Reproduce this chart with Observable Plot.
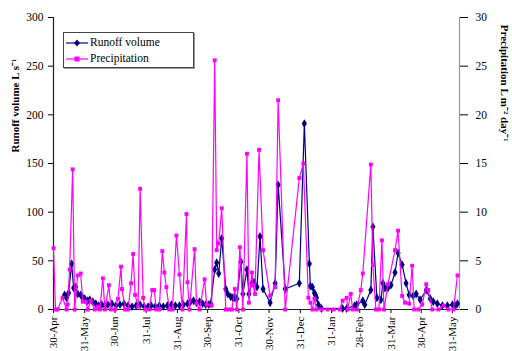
<!DOCTYPE html>
<html><head><meta charset="utf-8">
<script src="https://cdn.jsdelivr.net/npm/d3@7"></script>
<script src="https://cdn.jsdelivr.net/npm/@observablehq/plot@0.6"></script>
<style>
body{margin:0;background:#fff;}
#wrap{position:relative;width:512px;height:351px;font-family:"Liberation Serif","Times New Roman",serif;}
#legend{position:absolute;left:63px;top:32px;width:129px;height:34px;border:1px solid #444;background:#fff;box-shadow:1px 1px 0 #999;font-family:"Liberation Serif","Times New Roman",serif;font-size:11.5px;color:#000;}
#legend .row{position:absolute;left:2px;height:12px;line-height:12px;white-space:nowrap;}
#legend svg{vertical-align:middle;margin-right:2px;}
</style>
</head><body>
<div id="wrap"><div id="legend"></div></div>
<script>
const runoffDates = ["2005-05-11","2005-05-13","2005-05-15","2005-05-18","2005-05-20","2005-05-22","2005-05-24","2005-05-27","2005-05-29","2005-05-31",
"2005-06-03","2005-06-05","2005-06-08","2005-06-11","2005-06-14","2005-06-17","2005-06-20","2005-06-23","2005-06-27","2005-07-01",
"2005-07-05","2005-07-09","2005-07-13","2005-07-17","2005-07-21","2005-07-25","2005-07-29","2005-08-02","2005-08-05","2005-08-09",
"2005-08-13","2005-08-17","2005-08-21","2005-08-25","2005-08-29","2005-09-02","2005-09-06","2005-09-10","2005-09-13","2005-09-16",
"2005-09-19","2005-09-22","2005-09-25","2005-09-28","2005-10-01","2005-10-03","2005-10-07","2005-10-09","2005-10-11","2005-10-14",
"2005-10-18","2005-10-20","2005-10-23","2005-10-25","2005-10-27","2005-10-29","2005-11-02","2005-11-04","2005-11-08","2005-11-10",
"2005-11-13","2005-11-15","2005-11-18","2005-11-21","2005-11-24","2005-12-01","2005-12-06","2005-12-09","2005-12-16","2005-12-30",
"2006-01-04","2006-01-09","2006-01-10","2006-01-12","2006-01-14","2006-01-15","2006-01-16","2006-01-18","2006-01-21","2006-02-11",
"2006-02-15","2006-02-23","2006-02-25","2006-03-03","2006-03-05","2006-03-11","2006-03-13","2006-03-17","2006-03-21","2006-03-23",
"2006-03-25","2006-03-28","2006-03-31","2006-04-04","2006-04-07","2006-04-11","2006-04-15","2006-04-18","2006-04-22","2006-04-25",
"2006-04-29","2006-05-05","2006-05-09","2006-05-12","2006-05-16","2006-05-21","2006-05-26","2006-05-31","2006-06-03","2006-06-05"];
const runoffValues = [15,12,17,47,22,23,16,15,12,11,
9,10,8,6,4,5,4,5,6,4,
5,6,4,3,4,5,3,3,4,3,
4,3,4,5,4,4,5,6,8,9,
7,8,6,5,5,6,41,48,37,73,
21,16,13,12,12,11,49,16,41,16,
27,28,23,75,21,7,27,128,21,27,
191,47,24,23,17,15,12,5,1,1,
1,4,5,9,5,20,85,12,10,27,
22,22,25,38,58,46,27,15,14,16,
10,20,11,8,6,4,4,5,4,6];

const precipDates = ["2005-04-30","2005-05-02","2005-05-04","2005-05-09","2005-05-13","2005-05-14","2005-05-16","2005-05-19","2005-05-21","2005-05-24",
"2005-05-27","2005-05-29","2005-06-01","2005-06-03","2005-06-06","2005-06-10","2005-06-13","2005-06-15","2005-06-18","2005-06-20",
"2005-06-24","2005-06-26","2005-06-30","2005-07-03","2005-07-06","2005-07-07","2005-07-10","2005-07-13","2005-07-16","2005-07-18",
"2005-07-20","2005-07-23","2005-07-25","2005-07-28","2005-07-30","2005-08-03","2005-08-06","2005-08-08","2005-08-10","2005-08-13",
"2005-08-16","2005-08-18","2005-08-20","2005-08-23","2005-08-26","2005-08-30","2005-09-02","2005-09-05","2005-09-09","2005-09-10",
"2005-09-12","2005-09-17","2005-09-19","2005-09-22","2005-09-27","2005-09-29","2005-10-04","2005-10-07","2005-10-09","2005-10-11",
"2005-10-14","2005-10-18","2005-10-21","2005-10-24","2005-10-27","2005-10-29","2005-11-01","2005-11-04","2005-11-08","2005-11-10",
"2005-11-13","2005-11-14","2005-11-16","2005-11-20","2005-11-24","2005-12-01","2005-12-06","2005-12-09","2005-12-16","2005-12-30",
"2006-01-03","2006-01-08","2006-01-10","2006-01-12","2006-01-14","2006-01-16","2006-01-21","2006-01-27","2006-02-02","2006-02-08",
"2006-02-11","2006-02-15","2006-02-16","2006-02-19","2006-02-21","2006-02-25","2006-03-01","2006-03-03","2006-03-11","2006-03-13",
"2006-03-16","2006-03-19","2006-03-22","2006-03-24","2006-03-28","2006-04-04","2006-04-07","2006-04-11","2006-04-14","2006-04-18",
"2006-04-21","2006-04-23","2006-04-27","2006-05-01","2006-05-05","2006-05-07","2006-05-11","2006-05-17","2006-05-22","2006-05-27",
"2006-06-01","2006-06-05"];
const precipValues = [6.3,0,0,1.2,0,0.5,4.1,14.4,0,3.5,
3.7,0.8,0.8,0,0.9,0,0.3,0,3.2,0,
2.5,0,0,1.1,4.4,2.1,0,0,2.7,5.7,
1.5,0.3,12.4,1.2,0,0,2.0,2.0,0,0,
6.0,3.8,2.3,0,0,7.6,3.6,0,9.8,2.8,
0,6.2,0.6,0,3.1,0.5,0.4,25.6,6.1,6.8,
10.4,0,0,0,2.1,0,6.4,0,16.0,0.7,
3.8,2.5,1.6,16.4,6.1,1.4,2.3,21.5,0,13.5,
15.0,1.2,0.7,0,1.1,0,0,0,0,0,
0.9,1.2,0,1.6,0,0,2.0,3.7,14.9,4.6,
0,0,7.1,0,2.6,6.1,8.1,1.4,0.7,0.6,
4.5,0,0,0.5,2.6,2.0,0,0,0.4,0,
0,3.5];

const xTickDates = ["2005-04-30","2005-05-31","2005-06-30","2005-07-31","2005-08-31","2005-09-30","2005-10-31","2005-11-30","2005-12-31","2006-01-31","2006-02-28","2006-03-31","2006-04-30","2006-05-31"];
const leftTicks = [0,50,100,150,200,250,300];
const rightTicks = [0,5,10,15,20,25,30];
const seriesNames = ["Runoff volume","Precipitation"];
const seriesColors = ["#000080","#ff00ff"];
const leftLabel = "Runoff volume L s\u207B\u00B9";
const rightLabel = "Precipitation L m\u207B\u00B2 day\u207B\u00B9";

const ratio = 300 / 30;
const runoff = runoffDates.map((d, i) => ({date: new Date(d), value: runoffValues[i]}));
const precip = precipDates.map((d, i) => ({date: new Date(d), value: precipValues[i] * ratio}));
const x0 = new Date("2005-04-30"), x1 = new Date("2006-06-07");
const font = '"Liberation Serif","Times New Roman",serif';

const chart = Plot.plot({
  width: 512, height: 351,
  marginLeft: 53, marginRight: 53, marginTop: 17, marginBottom: 42,
  style: {fontFamily: font, fontSize: "11.5px", color: "#000", background: "#fff", overflow: "visible"},
  x: {type: "utc", domain: [x0, x1]},
  y: {domain: [0, 300]},
  marks: [
    Plot.ruleX([x1], {stroke: "#9a9a9a", strokeWidth: 1.2}),
    Plot.axisX({ticks: xTickDates.map(d => new Date(d)), tickFormat: d3.utcFormat("%d-%b"), tickRotate: -90, tickSize: 4, tickPadding: 3, label: null, fontSize: 11}),
    Plot.axisY({anchor: "left", ticks: leftTicks, tickSize: 5, tickPadding: 5, label: null}),
    Plot.axisY({anchor: "right", ticks: rightTicks.map(v => v * ratio), tickFormat: v => v / ratio, tickSize: 8, tickPadding: 8, label: null}),
    Plot.ruleX([x0], {stroke: "#222", strokeWidth: 1.2}),
    Plot.ruleY([0], {stroke: "#222", strokeWidth: 1.2}),
    Plot.line(runoff, {x: "date", y: "value", stroke: seriesColors[0], strokeWidth: 1.2}),
    Plot.dot(runoff, {x: "date", y: "value", symbol: "diamond", r: 2.7, fill: seriesColors[0], stroke: "none"}),
    Plot.line(precip, {x: "date", y: "value", stroke: seriesColors[1], strokeWidth: 1.2}),
    Plot.dot(precip, {x: "date", y: "value", symbol: "square", r: 2.2, fill: seriesColors[1], stroke: "none"}),
    Plot.text([leftLabel], {text: d => d, frameAnchor: "left", dx: -38, dy: -11, rotate: -90, fontWeight: "bold", fontSize: 11}),
    Plot.text([rightLabel], {text: d => d, frameAnchor: "right", dx: 45, dy: -22, rotate: 90, fontWeight: "bold", fontSize: 11})
  ]
});
const wrap = document.getElementById("wrap");
wrap.insertBefore(chart, wrap.firstChild);

const legend = document.getElementById("legend");
seriesNames.forEach((name, i) => {
  const row = document.createElement("div");
  row.className = "row";
  row.style.top = (i === 0 ? 3 : 19) + "px";
  const marker = i === 0
    ? `<polygon points="11,0.5 14,4 11,7.5 8,4" fill="${seriesColors[i]}"/>`
    : `<rect x="8.5" y="1.5" width="5" height="5" fill="${seriesColors[i]}"/>`;
  row.innerHTML = `<svg width="22" height="8"><line x1="0" y1="4" x2="22" y2="4" stroke="${seriesColors[i]}" stroke-width="1.2"/>${marker}</svg>`;
  row.appendChild(document.createTextNode(name));
  legend.appendChild(row);
});
</script>
</body></html>
